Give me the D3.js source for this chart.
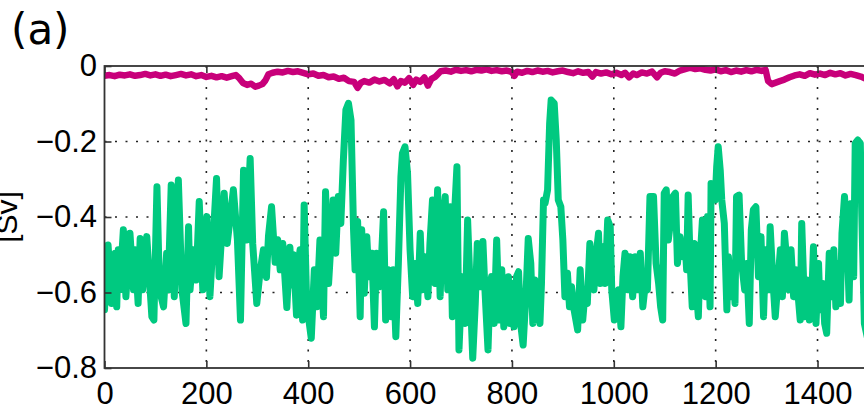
<!DOCTYPE html>
<html>
<head>
<meta charset="utf-8">
<script src="https://cdn.jsdelivr.net/npm/d3@7"></script>
<style>
  html, body { margin: 0; padding: 0; background: #fff; }
  svg { display: block; }
</style>
</head>
<body>
<div id="chart"></div>
<script>
// tick values
let xTicks = [0, 200, 400, 600, 800, 1000, 1200, 1400];
let yTicks = [0, -0.2, -0.4, -0.6, -0.8];

// magenta series [time, Sv]
let magentaPts = [[0,-0.026],[10,-0.024],[20,-0.027],[30,-0.023],[40,-0.025],[50,-0.022],[60,-0.026],[70,-0.024],[80,-0.021],[90,-0.025],[100,-0.022],[110,-0.026],[120,-0.023],[130,-0.027],[140,-0.024],[150,-0.021],[160,-0.025],[170,-0.022],[180,-0.027],[190,-0.024],[200,-0.029],[210,-0.026],[220,-0.030],[230,-0.027],[240,-0.031],[250,-0.027],[258,-0.024],[265,-0.033],[272,-0.045],[280,-0.050],[288,-0.047],[296,-0.055],[303,-0.052],[310,-0.048],[316,-0.038],[322,-0.022],[330,-0.018],[340,-0.015],[350,-0.017],[360,-0.013],[370,-0.016],[380,-0.014],[390,-0.018],[400,-0.022],[410,-0.020],[420,-0.026],[430,-0.024],[440,-0.030],[450,-0.028],[460,-0.034],[470,-0.031],[480,-0.040],[490,-0.042],[497,-0.058],[503,-0.045],[510,-0.040],[520,-0.044],[530,-0.036],[540,-0.041],[550,-0.037],[560,-0.046],[568,-0.035],[575,-0.054],[582,-0.040],[590,-0.044],[598,-0.032],[606,-0.050],[612,-0.036],[620,-0.042],[628,-0.030],[635,-0.052],[642,-0.034],[650,-0.028],[660,-0.014],[670,-0.012],[680,-0.015],[690,-0.010],[700,-0.013],[710,-0.011],[720,-0.014],[730,-0.010],[740,-0.012],[750,-0.009],[760,-0.013],[770,-0.011],[780,-0.014],[790,-0.012],[800,-0.016],[805,-0.026],[810,-0.015],[820,-0.018],[830,-0.013],[840,-0.016],[850,-0.012],[860,-0.015],[870,-0.013],[880,-0.017],[890,-0.014],[900,-0.012],[910,-0.016],[920,-0.019],[930,-0.014],[940,-0.018],[950,-0.016],[958,-0.028],[965,-0.016],[975,-0.020],[985,-0.017],[995,-0.022],[1005,-0.018],[1015,-0.024],[1022,-0.018],[1030,-0.030],[1038,-0.020],[1045,-0.024],[1055,-0.017],[1065,-0.020],[1075,-0.015],[1085,-0.030],[1092,-0.018],[1100,-0.014],[1110,-0.016],[1120,-0.020],[1130,-0.012],[1140,-0.008],[1150,-0.004],[1160,-0.008],[1170,-0.006],[1180,-0.010],[1190,-0.012],[1200,-0.009],[1210,-0.014],[1220,-0.011],[1230,-0.016],[1240,-0.012],[1250,-0.015],[1260,-0.011],[1270,-0.014],[1280,-0.010],[1290,-0.013],[1298,-0.010],[1303,-0.040],[1310,-0.048],[1318,-0.044],[1326,-0.040],[1335,-0.036],[1345,-0.030],[1355,-0.025],[1365,-0.022],[1375,-0.026],[1385,-0.019],[1395,-0.023],[1405,-0.020],[1415,-0.024],[1425,-0.018],[1435,-0.022],[1445,-0.019],[1455,-0.025],[1465,-0.021],[1475,-0.024],[1485,-0.028],[1495,-0.034]];

// green series [time, Sv]
let greenPts = [[0,-0.646],[7,-0.474],[14,-0.629],[21,-0.496],[24,-0.638],[27,-0.487],[30,-0.593],[37,-0.434],[42,-0.611],[50,-0.443],[57,-0.593],[60,-0.487],[66,-0.629],[70,-0.457],[75,-0.593],[83,-0.452],[93,-0.664],[97,-0.673],[103,-0.320],[108,-0.593],[116,-0.638],[122,-0.496],[125,-0.593],[131,-0.315],[137,-0.611],[145,-0.302],[152,-0.593],[160,-0.682],[165,-0.426],[168,-0.593],[174,-0.487],[180,-0.567],[186,-0.359],[193,-0.593],[201,-0.399],[207,-0.611],[214,-0.443],[220,-0.298],[225,-0.558],[235,-0.337],[241,-0.470],[253,-0.328],[261,-0.461],[267,-0.673],[273,-0.276],[279,-0.461],[286,-0.245],[291,-0.470],[299,-0.629],[305,-0.550],[312,-0.487],[318,-0.560],[322,-0.450],[328,-0.373],[335,-0.520],[340,-0.460],[345,-0.540],[350,-0.470],[358,-0.640],[364,-0.480],[368,-0.580],[371,-0.500],[377,-0.660],[381,-0.520],
  [384,-0.487],[389,-0.673],[392,-0.368],[397,-0.629],[406,-0.721],[412,-0.540],[417,-0.638],[423,-0.461],[430,-0.664],[434,-0.333],[440,-0.576],[445,-0.461],[449,-0.355],[454,-0.496],[459,-0.346],[464,-0.417],[469,-0.249],[474,-0.116],[479,-0.099],[484,-0.143],[489,-0.434],[492,-0.540],[497,-0.412],[502,-0.664],[505,-0.434],[510,-0.602],[515,-0.452],[519,-0.558],[525,-0.496],[530,-0.691],[534,-0.496],[539,-0.585],[544,-0.505],[548,-0.386],[552,-0.673],[557,-0.540],[563,-0.664],[567,-0.540],[572,-0.717],[577,-0.523],[582,-0.293],[585,-0.231],[590,-0.214],[595,-0.284],[600,-0.487],[605,-0.611],[610,-0.523],[615,-0.629],[620,-0.443],[624,-0.593],[629,-0.505],[635,-0.611],[639,-0.470],[644,-0.355],[649,-0.576],[654,-0.328],[659,-0.611],[664,-0.417],[669,-0.346],[674,-0.593],[679,-0.373],[683,-0.664],[687,-0.399],[692,-0.267],[696,-0.752],[702,-0.558],[708,-0.682],[713,-0.408],[718,-0.593],[723,-0.774],[728,-0.629],[732,-0.470],[738,-0.585],[743,-0.465],[747,-0.593],[753,-0.752],[757,-0.585],
  [760,-0.558],[765,-0.682],[770,-0.461],[775,-0.673],[780,-0.540],[784,-0.691],[790,-0.611],[793,-0.558],[796,-0.682],[800,-0.576],[804,-0.691],[809,-0.558],[813,-0.545],[817,-0.682],[822,-0.739],[828,-0.593],[832,-0.457],[837,-0.523],[841,-0.682],[845,-0.567],[850,-0.611],[855,-0.682],[858,-0.576],[862,-0.355],[865,-0.364],[870,-0.328],[874,-0.152],[877,-0.090],[883,-0.099],[887,-0.196],[891,-0.355],[896,-0.373],[900,-0.461],[904,-0.611],[909,-0.549],[913,-0.638],[917,-0.585],[922,-0.646],[929,-0.699],[934,-0.540],[939,-0.673],[944,-0.593],[948,-0.629],[953,-0.470],[957,-0.549],[961,-0.593],[965,-0.505],[970,-0.443],[973,-0.576],[978,-0.479],[983,-0.576],[988,-0.408],[993,-0.426],[996,-0.593],[1001,-0.673],[1005,-0.611],[1009,-0.593],[1014,-0.691],[1018,-0.558],[1022,-0.496],[1027,-0.593],[1032,-0.505],[1037,-0.611],[1042,-0.505],[1046,-0.593],[1052,-0.496],[1057,-0.638],[1062,-0.576],[1066,-0.593],[1071,-0.346],[1078,-0.346],[1083,-0.523],[1088,-0.576],[1092,-0.638],[1096,-0.673],[1099,-0.337],[1103,-0.328],[1107,-0.461],[1111,-0.417],[1116,-0.346],[1121,-0.337],[1125,-0.523],[1130,-0.452],[1136,-0.505],
  [1140,-0.470],[1143,-0.540],[1146,-0.342],[1150,-0.523],[1154,-0.638],[1158,-0.470],[1163,-0.611],[1166,-0.664],[1169,-0.523],[1174,-0.408],[1178,-0.523],[1180,-0.611],[1184,-0.399],[1189,-0.638],[1191,-0.311],[1196,-0.328],[1199,-0.355],[1202,-0.267],[1205,-0.214],[1209,-0.276],[1212,-0.355],[1217,-0.417],[1222,-0.646],[1225,-0.505],[1230,-0.611],[1235,-0.540],[1238,-0.629],[1241,-0.346],[1246,-0.342],[1251,-0.523],[1257,-0.593],[1261,-0.523],[1266,-0.682],[1270,-0.434],[1274,-0.381],[1279,-0.373],[1284,-0.558],[1289,-0.452],[1294,-0.664],[1298,-0.487],[1304,-0.593],[1307,-0.426],[1312,-0.558],[1317,-0.664],[1322,-0.576],[1327,-0.487],[1331,-0.611],[1335,-0.443],[1340,-0.523],[1344,-0.593],[1348,-0.487],[1353,-0.611],[1357,-0.540],[1361,-0.593],[1366,-0.673],[1369,-0.417],[1375,-0.664],[1379,-0.567],[1384,-0.673],[1388,-0.638],[1392,-0.479],[1397,-0.682],[1402,-0.523],[1405,-0.646],[1410,-0.576],[1414,-0.682],[1418,-0.708],[1423,-0.496],[1427,-0.611],[1432,-0.487],[1436,-0.638],[1440,-0.523],[1445,-0.629],[1448,-0.443],[1453,-0.346],[1458,-0.461],[1462,-0.620],[1466,-0.364],[1471,-0.558],[1474,-0.205],[1479,-0.196],[1484,-0.205],[1487,-0.399],[1492,-0.682],[1498,-0.720]];

let w = 864, h = 410;
let plotLeft = 104.5, plotTop = 66, plotBottom = 368;
let plotRight = plotLeft + 1500 * 0.5093; // frame runs past the window edge

let svg = d3.select("#chart").append("svg").attr("width", w).attr("height", h);

let xScale = d3.scaleLinear().domain([0, 1500]).range([plotLeft, plotRight]);
let yScale = d3.scaleLinear().domain([-0.8, 0]).range([plotBottom, plotTop]);

svg.append("defs").append("clipPath").attr("id", "plotclip")
  .append("rect").attr("x", plotLeft).attr("y", plotTop)
  .attr("width", plotRight - plotLeft).attr("height", plotBottom - plotTop);

// dotted grid
let grid = svg.append("g");
grid.selectAll(".vg").data(xTicks.filter(d => d > 0)).enter().append("line")
  .attr("x1", d => xScale(d)).attr("x2", d => xScale(d))
  .attr("y1", plotTop).attr("y2", plotBottom)
  .attr("stroke", "#222").attr("stroke-width", 1.6).attr("stroke-dasharray", "2,8.5");
grid.selectAll(".hg").data(yTicks.filter(d => d < 0 && d > -0.8)).enter().append("line")
  .attr("x1", plotLeft).attr("x2", plotRight)
  .attr("y1", d => yScale(d)).attr("y2", d => yScale(d))
  .attr("stroke", "#222").attr("stroke-width", 1.6).attr("stroke-dasharray", "2,8.5");

let line = d3.line().x(d => xScale(d[0])).y(d => yScale(d[1]));

let lines = svg.append("g").attr("clip-path", "url(#plotclip)");
lines.append("path").attr("d", line(greenPts))
  .attr("fill", "none").attr("stroke", "#00C980").attr("stroke-width", 7)
  .attr("stroke-linejoin", "round").attr("stroke-linecap", "round");
lines.append("path").attr("d", line(magentaPts))
  .attr("fill", "none").attr("stroke", "#C8007A").attr("stroke-width", 6.5)
  .attr("stroke-linejoin", "round").attr("stroke-linecap", "round");

// axes
let fmtY = d => d === 0 ? "0" : d3.format(".1f")(d);
let xAxis = svg.append("g").attr("transform", "translate(0," + plotBottom + ")")
  .call(d3.axisBottom(xScale).tickValues(xTicks).tickSize(-7).tickPadding(14).tickFormat(d3.format("d")));
let xTop = svg.append("g").attr("transform", "translate(0," + plotTop + ")")
  .call(d3.axisTop(xScale).tickValues(xTicks).tickSize(-7).tickFormat(""));
let yAxis = svg.append("g").attr("transform", "translate(" + plotLeft + ",0)")
  .call(d3.axisLeft(yScale).tickValues(yTicks).tickSize(-7).tickPadding(7.5).tickFormat(fmtY));

[xAxis, xTop, yAxis].forEach(g => {
  g.select(".domain").remove();
  g.selectAll(".tick line").attr("stroke", "#333").attr("stroke-width", 1.6);
  g.selectAll("text").attr("font-family", "'Liberation Sans', Arial, sans-serif")
    .attr("font-size", 31).attr("fill", "#000");
});

// frame
svg.append("rect").attr("x", plotLeft).attr("y", plotTop)
  .attr("width", plotRight - plotLeft).attr("height", plotBottom - plotTop)
  .attr("fill", "none").attr("stroke", "#333").attr("stroke-width", 1.8);

// labels
svg.append("text").attr("transform", "translate(17,217) rotate(-90)")
  .attr("text-anchor", "middle").attr("font-family", "'Liberation Sans', Arial, sans-serif")
  .attr("font-size", 30).text("[Sv]");
svg.append("text").attr("x", 11).attr("y", 44)
  .attr("font-family", "'DejaVu Sans', sans-serif").attr("font-size", 42).text("(a)");
</script>
</body>
</html>
